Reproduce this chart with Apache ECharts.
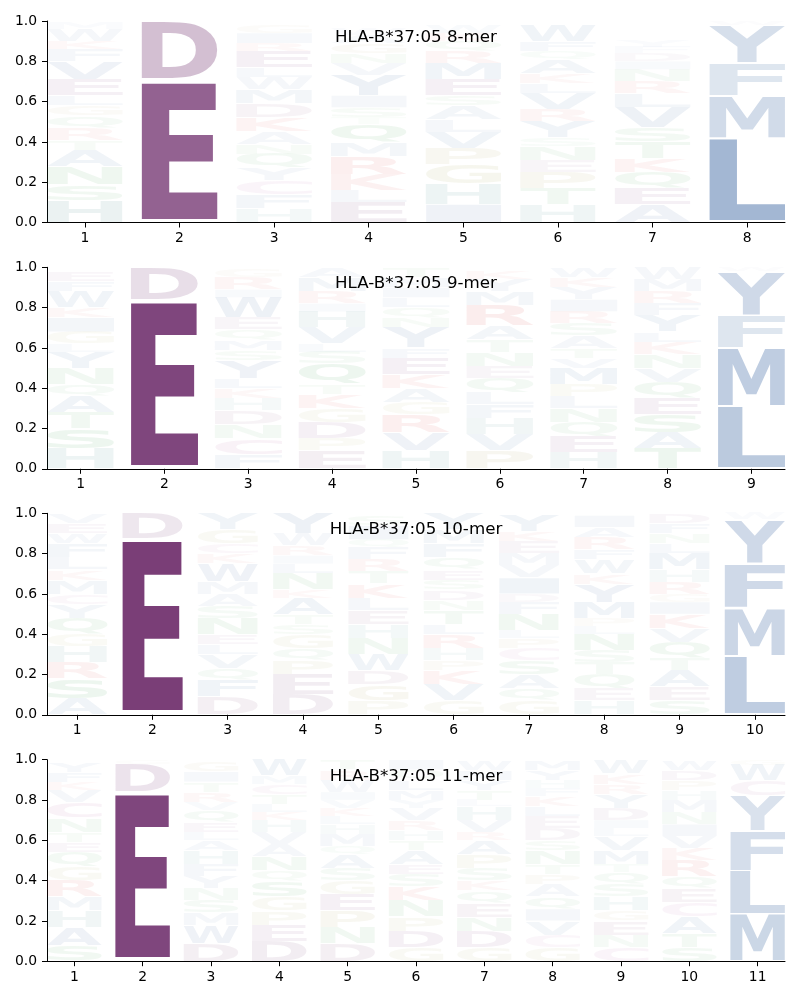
<!DOCTYPE html>
<html><head><meta charset="utf-8">
<script src="https://cdn.jsdelivr.net/npm/echarts@6/dist/echarts.min.js"></script>
<style>html,body{margin:0;padding:0;background:#fff}#main{width:800px;height:1000px}</style>
</head><body><div id="main"></div>
<script>
// ---------- data ----------
const titles = ['HLA-B*37:05 8-mer', 'HLA-B*37:05 9-mer', 'HLA-B*37:05 10-mer', 'HLA-B*37:05 11-mer'];
const yTickValues = [0, 0.2, 0.4, 0.6, 0.8, 1.0];

// each position: letters bottom -> top, [letter, height]
const logo8 = [
  [['H',.11],['S',.08],['N',.09],['A',.08],['T',.05],['R',.06],['Q',.06],['G',.05],['L',.05],['E',.08],['V',.09],['F',.06],['K',.04],['W',.06],['M',.03]],
  [['E',.71],['D',.29]],
  [['H',.07],['F',.07],['C',.07],['Y',.06],['Q',.07],['N',.05],['A',.06],['K',.07],['D',.07],['M',.07],['W',.06],['L',.05],['E',.08],['R',.04],['I',.05],['G',.04]],
  [['E',.10],['L',.06],['K',.08],['R',.09],['M',.07],['Q',.09],['T',.03],['S',.05],['I',.06],['Y',.10],['V',.06],['N',.05],['G',.05],['A',.04],['W',.03]],
  [['I',.09],['H',.10],['G',.10],['P',.08],['V',.08],['L',.06],['A',.07],['S',.05],['E',.08],['M',.08],['R',.06],['Q',.05],['K',.04],['W',.04]],
  [['H',.09],['T',.08],['P',.08],['E',.06],['N',.07],['S',.04],['Y',.08],['R',.06],['V',.08],['L',.05],['K',.05],['A',.07],['Q',.04],['F',.05],['W',.08]],
  [['A',.09],['E',.08],['Q',.08],['K',.07],['T',.08],['S',.07],['V',.10],['L',.07],['R',.06],['N',.06],['I',.04],['D',.04],['F',.03],['Y',.03]],
  [['L',.42],['M',.21],['F',.16],['Y',.19],['W',.02]]
];
const logo9 = [
  [['H',.10],['S',.10],['T',.08],['A',.08],['Q',.06],['N',.08],['Y',.08],['L',.04],['G',.06],['I',.07],['K',.05],['W',.08],['F',.05],['E',.05]],
  [['E',.84],['D',.16]],
  [['F',.07],['C',.08],['N',.07],['D',.07],['H',.06],['K',.05],['L',.05],['Y',.09],['S',.05],['M',.05],['Q',.05],['E',.06],['W',.10],['I',.04],['R',.06],['G',.04]],
  [['E',.09],['P',.06],['D',.08],['G',.07],['K',.07],['T',.05],['Q',.10],['S',.06],['L',.04],['V',.08],['H',.08],['I',.04],['R',.06],['M',.07],['A',.05]],
  [['H',.09],['V',.09],['R',.09],['G',.06],['A',.07],['K',.07],['E',.08],['F',.05],['Y',.10],['N',.05],['Q',.05],['L',.05],['I',.05],['M',.05],['T',.05]],
  [['P',.09],['V',.08],['H',.08],['F',.07],['L',.06],['Q',.07],['E',.06],['N',.07],['T',.06],['A',.07],['R',.10],['M',.07],['Y',.06],['K',.04]],
  [['H',.08],['E',.08],['Q',.07],['N',.07],['L',.06],['P',.06],['M',.08],['V',.05],['T',.05],['A',.06],['S',.06],['R',.06],['I',.06],['Y',.06],['K',.05],['W',.05]],
  [['T',.10],['A',.08],['S',.09],['E',.08],['Q',.08],['V',.07],['N',.07],['K',.06],['L',.05],['Y',.08],['F',.06],['R',.06],['M',.06],['W',.06]],
  [['L',.31],['M',.29],['F',.16],['Y',.22],['W',.02]]
];
const logo10 = [
  [['A',.08],['S',.10],['R',.08],['H',.08],['G',.06],['Q',.08],['Y',.07],['C',.05],['M',.07],['K',.05],['L',.06],['F',.07],['W',.05],['E',.05],['V',.05]],
  [['E',.875],['D',.125]],
  [['D',.09],['F',.08],['Q',.06],['V',.07],['L',.05],['E',.05],['N',.08],['S',.06],['A',.06],['M',.06],['W',.09],['K',.05],['C',.05],['G',.07],['Y',.08]],
  [['D',.10],['E',.10],['P',.07],['Q',.06],['G',.07],['S',.05],['T',.05],['A',.08],['K',.04],['N',.08],['L',.05],['I',.04],['R',.05],['W',.06],['Y',.10]],
  [['P',.07],['G',.08],['D',.07],['W',.08],['N',.08],['H',.07],['E',.07],['L',.06],['K',.07],['T',.06],['R',.06],['F',.06],['Q',.04],['I',.07],['S',.05]],
  [['G',.07],['V',.08],['K',.07],['P',.05],['H',.06],['R',.07],['L',.05],['T',.07],['N',.05],['D',.05],['S',.05],['E',.05],['Q',.06],['F',.07],['M',.07],['Y',.08]],
  [['G',.07],['Q',.06],['A',.07],['S',.07],['C',.06],['P',.05],['L',.04],['N',.08],['F',.06],['D',.04],['I',.08],['V',.06],['M',.06],['E',.06],['K',.05],['Y',.08]],
  [['H',.07],['E',.06],['Q',.07],['T',.06],['S',.06],['N',.08],['L',.04],['P',.04],['M',.08],['Y',.09],['K',.05],['W',.07],['F',.05],['R',.06],['A',.05],['I',.06]],
  [['S',.07],['E',.07],['A',.08],['T',.06],['Q',.08],['V',.07],['K',.07],['I',.06],['G',.04],['R',.06],['H',.06],['M',.08],['L',.05],['N',.05],['F',.05],['D',.05]],
  [['L',.29],['M',.24],['F',.22],['Y',.22],['W',.03]]
];
const logo11 = [
  [['S',.08],['A',.09],['H',.08],['M',.07],['R',.08],['G',.07],['Q',.07],['E',.05],['T',.05],['N',.07],['C',.08],['V',.06],['K',.04],['F',.05],['Y',.05]],
  [['E',.84],['D',.14],['G',.02]],
  [['D',.09],['W',.09],['M',.06],['S',.06],['N',.06],['Y',.06],['F',.06],['H',.07],['A',.05],['L',.04],['E',.05],['Q',.06],['V',.04],['R',.05],['T',.05],['I',.05],['G',.05]],
  [['D',.10],['E',.08],['P',.07],['G',.07],['S',.08],['Q',.05],['N',.07],['A',.06],['V',.06],['H',.06],['K',.04],['L',.04],['T',.05],['C',.05],['M',.04],['W',.08]],
  [['D',.09],['N',.08],['P',.08],['E',.08],['G',.07],['S',.06],['A',.07],['Q',.04],['M',.06],['H',.05],['L',.04],['K',.04],['V',.04],['I',.04],['W',.06],['R',.05],['T',.05]],
  [['G',.07],['D',.08],['P',.07],['N',.08],['K',.07],['S',.06],['E',.05],['A',.07],['T',.05],['H',.05],['R',.05],['V',.06],['Y',.04],['M',.05],['L',.05],['Q',.05],['I',.05]],
  [['G',.07],['D',.08],['N',.07],['E',.07],['Q',.06],['K',.05],['S',.06],['P',.07],['A',.07],['R',.04],['V',.06],['H',.07],['L',.03],['T',.05],['Y',.05],['M',.05],['W',.05]],
  [['G',.07],['C',.06],['V',.07],['I',.06],['Q',.06],['A',.06],['P',.05],['T',.05],['N',.07],['S',.05],['D',.06],['E',.06],['L',.05],['K',.05],['F',.04],['H',.04],['Y',.05],['M',.05]],
  [['C',.07],['N',.06],['E',.07],['G',.05],['H',.07],['S',.06],['Q',.06],['T',.04],['M',.07],['V',.07],['L',.04],['I',.04],['D',.06],['Y',.07],['R',.05],['K',.05],['W',.07]],
  [['S',.07],['T',.07],['A',.08],['C',.07],['E',.07],['Q',.06],['R',.08],['K',.06],['V',.06],['I',.06],['N',.06],['M',.06],['H',.05],['P',.05],['D',.05],['W',.05]],
  [['M',.235],['L',.215],['F',.195],['Y',.175],['C',.075],['W',.08],['G',.025]]
];
const logos = [logo8, logo9, logo10, logo11];

// ---------- styling ----------
const groupColor = {
  acid: [103, 34, 100], hyd: [36, 84, 150], polar: [40, 150, 60],
  basic: [210, 40, 40], his: [40, 120, 120], gp: [150, 140, 50], cys: [160, 60, 140]
};
const letterGroup = {D:'acid',E:'acid',A:'hyd',V:'hyd',L:'hyd',I:'hyd',M:'hyd',F:'hyd',W:'hyd',Y:'hyd',
  S:'polar',T:'polar',N:'polar',Q:'polar',K:'basic',R:'basic',H:'his',G:'gp',P:'gp',C:'cys'};
function letterColor(ch, h) {
  const c = groupColor[letterGroup[ch]];
  const a = Math.min(1, h * (0.68 + 0.32 * Math.min(1, h / 0.2)));
  return 'rgba(' + c[0] + ',' + c[1] + ',' + c[2] + ',' + a.toFixed(3) + ')';
}

const FONT = 'bold 200px "DejaVu Sans"';
const mctx = document.createElement('canvas').getContext('2d');
mctx.font = FONT; mctx.textBaseline = 'middle'; mctx.textAlign = 'left';
const metricCache = {};
function metrics(ch) {
  if (!metricCache[ch]) {
    const m = mctx.measureText(ch);
    metricCache[ch] = {L: m.actualBoundingBoxLeft, R: m.actualBoundingBoxRight, A: m.actualBoundingBoxAscent, D: m.actualBoundingBoxDescent};
  }
  return metricCache[ch];
}

const gridTops = [21, 267.3, 513.3, 759.7];
const gridH = 201.5;
const HALF_W = 0.4, VPAD = 0.05;

const grids = [], xAxes = [], yAxes = [], series = [], graphics = [];
logos.forEach((logo, k) => {
  const n = logo.length;
  const positions = logo.map((_, i) => i + 1);
  grids.push({left: 47, right: 15, top: gridTops[k], height: gridH, outerBoundsMode: 'none', containLabel: false});
  xAxes.push({
    type: 'value', gridIndex: k, min: 1 - 0.4, max: n + 0.4,
    axisLine: {show: true, onZero: false, lineStyle: {color: '#000', width: 1}},
    axisTick: {show: true, customValues: positions, length: 5, lineStyle: {color: '#000', width: 1}},
    axisLabel: {show: true, customValues: positions, color: '#000', fontSize: 13.9, fontFamily: 'DejaVu Sans', margin: 9,
      formatter: v => String(Math.round(v))},
    splitLine: {show: false}
  });
  yAxes.push({
    type: 'value', gridIndex: k, min: 0, max: 1, interval: 0.2,
    axisLine: {show: true, lineStyle: {color: '#000', width: 1}},
    axisTick: {show: true, length: 5, lineStyle: {color: '#000', width: 1}},
    axisLabel: {color: '#000', fontSize: 13.9, fontFamily: 'DejaVu Sans', margin: 10, formatter: v => v.toFixed(1)},
    splitLine: {show: false}
  });
  const items = [];
  logo.forEach((col, i) => {
    let floor = 0;
    col.forEach(([ch, h]) => {
      items.push({pos: i + 1, ch, h, y0: floor, y1: floor + h});
      floor += h;
    });
  });
  series.push({
    type: 'custom', xAxisIndex: k, yAxisIndex: k, silent: true, clip: false,
    data: items.map(it => [it.pos, it.y0, it.y1]),
    encode: {x: 0, y: [1, 2]},
    renderItem: (params, api) => {
      const it = items[params.dataIndex];
      const pad = it.h * VPAD / 2;
      const p0 = api.coord([it.pos - HALF_W, it.y1 - pad]);
      const p1 = api.coord([it.pos + HALF_W, it.y0 + pad]);
      const m = metrics(it.ch);
      const sx = (p1[0] - p0[0]) / (m.L + m.R);
      const sy = (p1[1] - p0[1]) / (m.A + m.D);
      return {
        type: 'text',
        x: p0[0] + m.L * sx, y: p0[1] + m.A * sy,
        scaleX: sx, scaleY: sy,
        style: {text: it.ch, font: FONT, fill: letterColor(it.ch, it.h),
          align: 'left', verticalAlign: 'middle', textAlign: 'left', textVerticalAlign: 'middle'}
      };
    }
  });
  graphics.push({
    type: 'text', x: 416, y: gridTops[k] + 16.5, z: 100,
    style: {text: titles[k], font: '16.7px "DejaVu Sans"', fill: '#000',
      align: 'center', verticalAlign: 'middle', textAlign: 'center', textVerticalAlign: 'middle'}
  });
});

const chart = echarts.init(document.getElementById('main'), null, {renderer: 'canvas'});
chart.setOption({
  animation: false,
  backgroundColor: '#fff',
  grid: grids, xAxis: xAxes, yAxis: yAxes, series: series, graphic: graphics
});
</script></body></html>
